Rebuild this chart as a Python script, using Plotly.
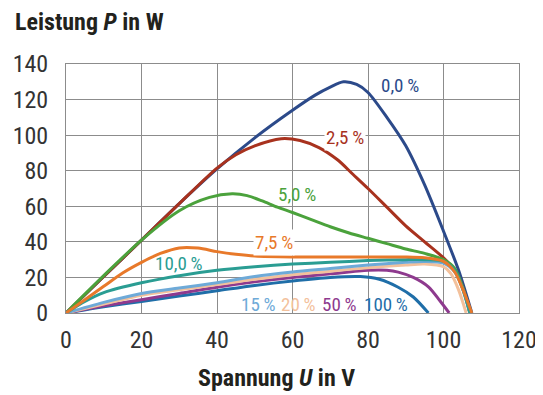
import plotly.graph_objects as go

# Leistung P (W) ueber Spannung U (V), je Verschattungsgrad
u_00 = [0, 10, 20, 30, 40, 50, 60, 66, 70, 73.5, 77, 80, 85, 90, 95, 100, 104, 107.5]
p_00 = [0, 20.5, 41, 61.5, 81, 98.5, 114, 122.5, 127, 130, 128.5, 124, 110, 94, 72, 46, 24, 0]

u_25 = [0, 10, 20, 30, 40, 45, 50, 57, 62, 67, 72, 76, 80, 85, 90, 95, 100, 103, 105, 107]
p_25 = [0, 20.5, 41, 61.5, 81.5, 89, 94, 98, 97, 93, 86, 78, 70, 59.5, 49, 40, 31, 24, 15, 0]

u_50 = [0, 10, 20, 30, 38, 44, 48, 52, 56, 60, 65, 70, 75, 80, 85, 90, 95, 100, 103, 105, 107]
p_50 = [0, 21, 41, 57.5, 65, 67, 66, 63, 59.5, 56.5, 52.5, 48.5, 45, 42, 39, 36, 33.5, 30, 25, 15, 0]

u_75 = [0, 5, 10, 15, 20, 25, 30, 35, 40, 45, 50, 60, 70, 80, 90, 95, 100, 103, 105, 107.5]
p_75 = [0, 7.5, 15, 22.5, 28.5, 33.5, 36.6, 36.5, 34.5, 33, 32, 31.5, 31.5, 31.5, 31.5, 31, 29, 23, 14, 0]

u_100 = [0, 5, 10, 20, 30, 40, 50, 60, 70, 80, 90, 95, 100, 103, 105, 107]
p_100 = [0, 6.5, 11.5, 17, 21, 24, 26, 27.5, 28.5, 29.5, 30, 30, 29, 24, 14, 0]

u_15 = [0, 10, 20, 30, 40, 50, 60, 70, 80, 90, 95, 100, 103, 105, 107]
p_15 = [0, 6, 11, 14, 17, 20.5, 23, 25, 27, 28.5, 29, 28, 23, 14, 0]

u_20 = [0, 10, 20, 30, 40, 50, 60, 70, 80, 90, 95, 100, 102, 104, 106]
p_20 = [0, 5, 10, 13, 16, 19, 21.5, 23.5, 25.5, 27, 27.5, 26, 22, 13, 0]

u_500 = [0, 10, 20, 30, 40, 50, 60, 70, 80, 85, 88, 92, 96, 99, 101.5]
p_500 = [0, 4, 7.5, 11, 14.5, 17.5, 20, 22, 24, 24, 23, 20, 14.7, 7, 0]

u_1000 = [0, 10, 20, 30, 40, 50, 60, 70, 78, 83, 88, 92, 96]
p_1000 = [0, 3.5, 6.5, 9.5, 12.5, 15.5, 18, 20, 20.5, 19, 14.5, 9, 0]

labels = ["0,0 %", "2,5 %", "5,0 %", "100 %", "50 %", "20 %", "15 %", "10,0 %", "7,5 %"]
colors = ["#2c4a8a", "#a8321e", "#4ba23c", "#1f6ea8", "#8e3a8e", "#f3c19c", "#6eaad8", "#2a9d93", "#e8792a"]
label_u = [88.5, 73.9, 61.3, 84.7, 72.3, 61.5, 50.9, 30, 55]
label_p = [128, 98.8, 66.4, 5, 5, 5, 5, 28, 39.5]

# drawing order as in the original: later curves lie on top
series = [(u_00, p_00), (u_25, p_25), (u_50, p_50), (u_1000, p_1000), (u_500, p_500),
          (u_20, p_20), (u_15, p_15), (u_100, p_100), (u_75, p_75)]

FONT = "Roboto Condensed, Liberation Sans Narrow, sans-serif"

fig = go.Figure()
for (u, p), name, c in zip(series, labels, colors):
    fig.add_trace(go.Scatter(x=u, y=p, mode="lines", name=name,
                             line=dict(color=c, width=3, shape="spline", smoothing=0.8)))

for name, c, lu, lp in zip(labels, colors, label_u, label_p):
    bg = "white" if name in ("2,5 %", "7,5 %") else None
    fig.add_annotation(x=lu, y=lp, text=name.replace(" ", "\u2009"), showarrow=False,
                       font=dict(family=FONT, size=19, color=c),
                       bgcolor=bg, borderpad=1)

fig.add_annotation(xref="paper", yref="paper", x=-0.117, y=1.169, xanchor="left", yanchor="middle",
                   text="<b>Leistung <i>P</i> in W</b>", showarrow=False,
                   font=dict(family=FONT, size=24, color="#22221c"))
fig.add_annotation(xref="paper", yref="paper", x=0.464, y=-0.261, xanchor="center", yanchor="middle",
                   text="<b>Spannung <i>U</i> in V</b>", showarrow=False,
                   font=dict(family=FONT, size=24, color="#22221c"))

# page body has an 8px margin, so the figure is 8px smaller and the margins shift by 8
fig.update_layout(
    width=535, height=387,
    margin=dict(l=58, r=24, t=56, b=82, autoexpand=False),
    paper_bgcolor="white", plot_bgcolor="white",
    showlegend=False,
    font=dict(family=FONT, size=24, color="#333333"),
)
fig.update_xaxes(range=[0, 120], tickmode="linear", tick0=0, dtick=20,
                 showgrid=True, gridcolor="#8c8c8c", gridwidth=1,
                 showline=True, linecolor="#8c8c8c", mirror=True, zeroline=False,
                 ticks="", ticklabelstandoff=5, automargin=False)
fig.update_yaxes(range=[0, 140], tickmode="linear", tick0=0, dtick=20,
                 showgrid=True, gridcolor="#8c8c8c", gridwidth=1,
                 showline=True, linecolor="#8c8c8c", mirror=True, zeroline=False,
                 ticks="", ticklabelstandoff=12, automargin=False)

fig.write_html("out.html")
